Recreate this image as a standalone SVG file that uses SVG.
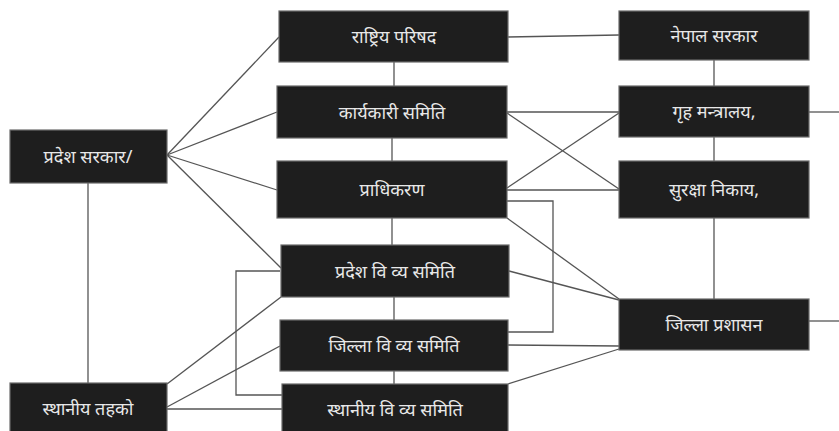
<svg xmlns="http://www.w3.org/2000/svg" width="839" height="431" viewBox="0 0 839 431">
<style>
.box{fill:#1e1e1e;stroke:#6a6a6a;stroke-width:1.2}
.lbl{fill:#e8e8e8;font-family:"Noto Sans","Noto Sans Devanagari","Lohit Devanagari",sans-serif;font-size:18px;text-anchor:middle;dominant-baseline:central}
.c line,.c polyline{stroke:#555;stroke-width:1.3;fill:none}
</style>
<rect width="839" height="431" fill="#ffffff"/>
<g class="c" id="connectors">
<line x1="167" y1="155" x2="279" y2="37"/>
<line x1="167" y1="155" x2="277" y2="112"/>
<line x1="167" y1="155" x2="277" y2="190"/>
<line x1="167" y1="155" x2="281" y2="268"/>
<line x1="88" y1="183" x2="88" y2="383"/>
<line x1="167" y1="384" x2="281" y2="297"/>
<line x1="167" y1="407" x2="280" y2="346"/>
<line x1="167" y1="409" x2="282" y2="409"/>
<polyline points="280,271 236,271 236,395 282,395"/>
<line x1="394" y1="62" x2="394" y2="86"/>
<line x1="392" y1="138" x2="392" y2="161"/>
<line x1="392" y1="218" x2="392" y2="245"/>
<line x1="394" y1="297" x2="394" y2="320"/>
<line x1="394" y1="371" x2="394" y2="384"/>
<line x1="508" y1="37" x2="619" y2="35"/>
<line x1="714" y1="60" x2="714" y2="86"/>
<line x1="714" y1="137" x2="714" y2="161"/>
<line x1="714" y1="218" x2="714" y2="299"/>
<line x1="809" y1="112" x2="839" y2="112"/>
<line x1="809" y1="321" x2="839" y2="321"/>
<line x1="507" y1="112" x2="619" y2="112"/>
<line x1="507" y1="113" x2="619" y2="189"/>
<line x1="507" y1="188" x2="619" y2="113"/>
<line x1="507" y1="190" x2="619" y2="190"/>
<polyline points="507,201 553,201 553,332 508,332"/>
<line x1="507" y1="218" x2="619" y2="299"/>
<line x1="509" y1="271" x2="619" y2="300"/>
<line x1="508" y1="345" x2="619" y2="346"/>
<line x1="508" y1="384" x2="619" y2="349"/>
</g>
<g id="rastriya"><rect class="box" x="279" y="11" width="229" height="51"/><text class="lbl" x="394" y="36">राष्ट्रिय परिषद</text></g>
<g id="karyakari"><rect class="box" x="277" y="86" width="230" height="52"/><text class="lbl" x="392" y="112">कार्यकारी समिति</text></g>
<g id="pradhikaran"><rect class="box" x="277" y="161" width="230" height="57"/><text class="lbl" x="392" y="189">प्राधिकरण</text></g>
<g id="pradesh-samiti"><rect class="box" x="281" y="245" width="228" height="52"/><text class="lbl" x="395" y="271">प्रदेश वि व्य समिति</text></g>
<g id="jilla-samiti"><rect class="box" x="280" y="320" width="228" height="51"/><text class="lbl" x="394" y="345">जिल्ला वि व्य समिति</text></g>
<g id="sthaniya-samiti"><rect class="box" x="282" y="384" width="226" height="52"/><text class="lbl" x="395" y="409">स्थानीय वि व्य समिति</text></g>
<g id="nepal-sarkar"><rect class="box" x="619" y="11" width="190" height="49"/><text class="lbl" x="714" y="35">नेपाल सरकार</text></g>
<g id="griha"><rect class="box" x="619" y="86" width="190" height="51"/><text class="lbl" x="714" y="111">गृह मन्त्रालय,</text></g>
<g id="suraksha"><rect class="box" x="619" y="161" width="190" height="57"/><text class="lbl" x="714" y="189">सुरक्षा निकाय,</text></g>
<g id="jilla-prashasan"><rect class="box" x="619" y="299" width="190" height="51"/><text class="lbl" x="714" y="324">जिल्ला प्रशासन</text></g>
<g id="pradesh-sarkar"><rect class="box" x="10" y="130" width="157" height="53"/><text class="lbl" x="88" y="156">प्रदेश सरकार/</text></g>
<g id="sthaniya-taha"><rect class="box" x="10" y="383" width="157" height="52"/><text class="lbl" x="88" y="408">स्थानीय तहको</text></g>
</svg>
